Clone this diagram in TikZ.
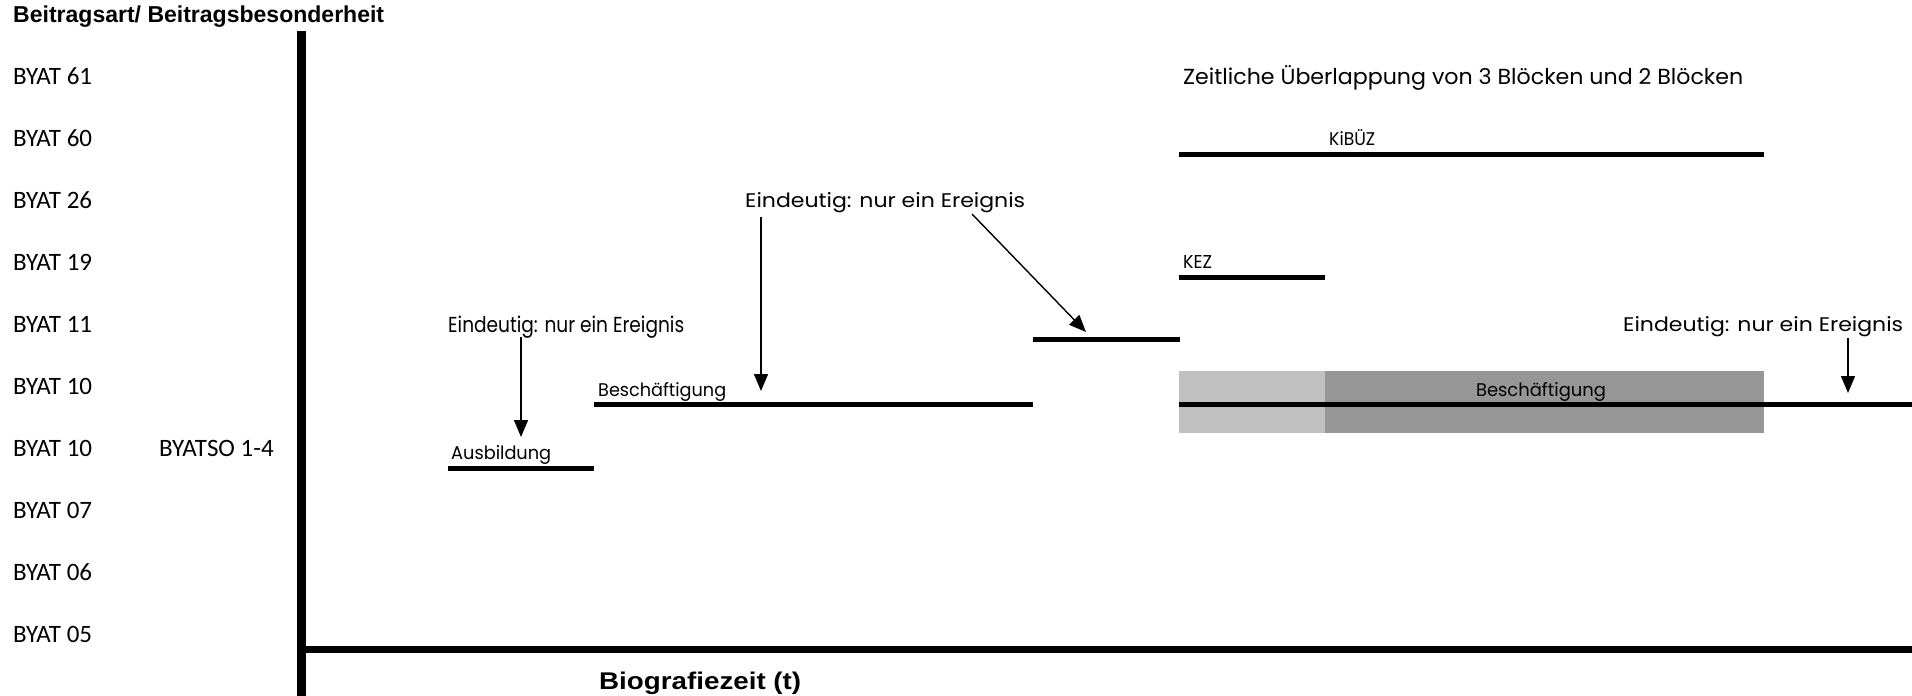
\documentclass[tikz,border=0pt]{standalone}
\usepackage{fontspec}
\usepackage{graphicx}
\setmainfont{Carlito}
\newfontfamily\gothic{Poppins}
\newfontfamily\arial{Liberation Sans}
\usetikzlibrary{arrows.meta}
\definecolor{lightgr}{HTML}{C0C0C0}
\definecolor{darkgr}{HTML}{969696}
\tikzset{
  rowlabel/.style={anchor=base west,inner sep=0pt,font=\fontsize{25}{29}\selectfont},
  txt/.style={anchor=base west,inner sep=0pt},
  axisline/.style={line width=#1},
  event/.style={line width=5pt},
  pointer/.style={line width=1.4pt,-{Triangle[length=17pt,width=14pt]}}
}
\newcommand{\gfit}[3]{\resizebox{#1}{#2}{\gothic #3}}
\begin{document}
\begin{tikzpicture}[x=1pt,y=-1pt]
\useasboundingbox (0,0) rectangle (1912,696);
% titles
\node[txt] (title) at (13,23) {\resizebox{371pt}{!}{\arial\bfseries Beitragsart/ Beitragsbesonderheit}};
\node[txt] (xlab) at (599,689) {\resizebox{202pt}{17.5pt}{\arial\bfseries Biografiezeit (t)}};
% row labels
\node[rowlabel] (r61) at (13,84) {BYAT 61};
\node[rowlabel] (r60) at (13,146) {BYAT 60};
\node[rowlabel] (r26) at (13,208) {BYAT 26};
\node[rowlabel] (r19) at (13,270) {BYAT 19};
\node[rowlabel] (r11) at (13,332) {BYAT 11};
\node[rowlabel] (r10a) at (13,394) {BYAT 10};
\node[rowlabel] (r10b) at (13,456) {BYAT 10};
\node[rowlabel] (rso) at (159,456) {BYATSO 1-4};
\node[rowlabel] (r07) at (13,518) {BYAT 07};
\node[rowlabel] (r06) at (13,580) {BYAT 06};
\node[rowlabel] (r05) at (13,642) {BYAT 05};
% axes
\coordinate (vtop) at (301.5,31);
\coordinate (vbot) at (301.5,696);
\coordinate (hl) at (297,649.5);
\coordinate (hr) at (1912,649.5);
\draw[axisline=9pt] (vtop) -- (vbot);
\draw[axisline=7pt] (hl) -- (hr);
% gray blocks
\fill[lightgr] (1179,371) rectangle (1325,433);
\fill[darkgr] (1325,371) rectangle (1764,433);
% event lines
\coordinate (a1) at (448,468); \coordinate (a2) at (594,468);
\coordinate (b1) at (594,404); \coordinate (b2) at (1033,404);
\coordinate (c1) at (1033,339); \coordinate (c2) at (1180,339);
\coordinate (k1) at (1179,277); \coordinate (k2) at (1325,277);
\coordinate (z1) at (1179,154); \coordinate (z2) at (1764,154);
\coordinate (d1) at (1179,404); \coordinate (d2) at (1912,404);
\draw[event] (a1) -- (a2);
\draw[event] (b1) -- (b2);
\draw[event] (c1) -- (c2);
\draw[event] (k1) -- (k2);
\draw[event] (z1) -- (z2);
\draw[event] (d1) -- (d2);
% labels
\node[txt] (ausb) at (451,459) {\gfit{100pt}{14pt}{Ausbildung}};
\node[txt] (besch1) at (598,396) {\gfit{128pt}{14pt}{Beschäftigung}};
\node[txt,anchor=base] (besch2) at (1541,396) {\gfit{130pt}{14pt}{Beschäftigung}};
\node[txt] (kez) at (1183,268) {\gfit{29pt}{13pt}{KEZ}};
\node[txt] (kibuz) at (1329,145) {\gfit{46pt}{16pt}{KiBÜZ}};
\node[txt] (zeit) at (1183,84) {\gfit{560pt}{19pt}{Zeitliche Überlappung von 3 Blöcken und 2 Blöcken}};
\node[txt] (eL) at (448,332) {\gfit{236pt}{16.5pt}{Eindeutig: nur ein Ereignis}};
\node[txt] (eM) at (745,207) {\gfit{280pt}{15pt}{Eindeutig: nur ein Ereignis}};
\node[txt] (eR) at (1623,331) {\gfit{280pt}{15pt}{Eindeutig: nur ein Ereignis}};
% arrows
\coordinate (pL1) at (521,337); \coordinate (pL2) at (521,437);
\coordinate (pM1) at (761,217); \coordinate (pM2) at (761,391);
\coordinate (pD1) at (972,214); \coordinate (pD2) at (1086,332);
\coordinate (pR1) at (1848,338); \coordinate (pR2) at (1848,393);
\draw[pointer] (pL1) -- (pL2);
\draw[pointer] (pM1) -- (pM2);
\draw[pointer] (pD1) -- (pD2);
\draw[pointer] (pR1) -- (pR2);
\end{tikzpicture}
\end{document}
